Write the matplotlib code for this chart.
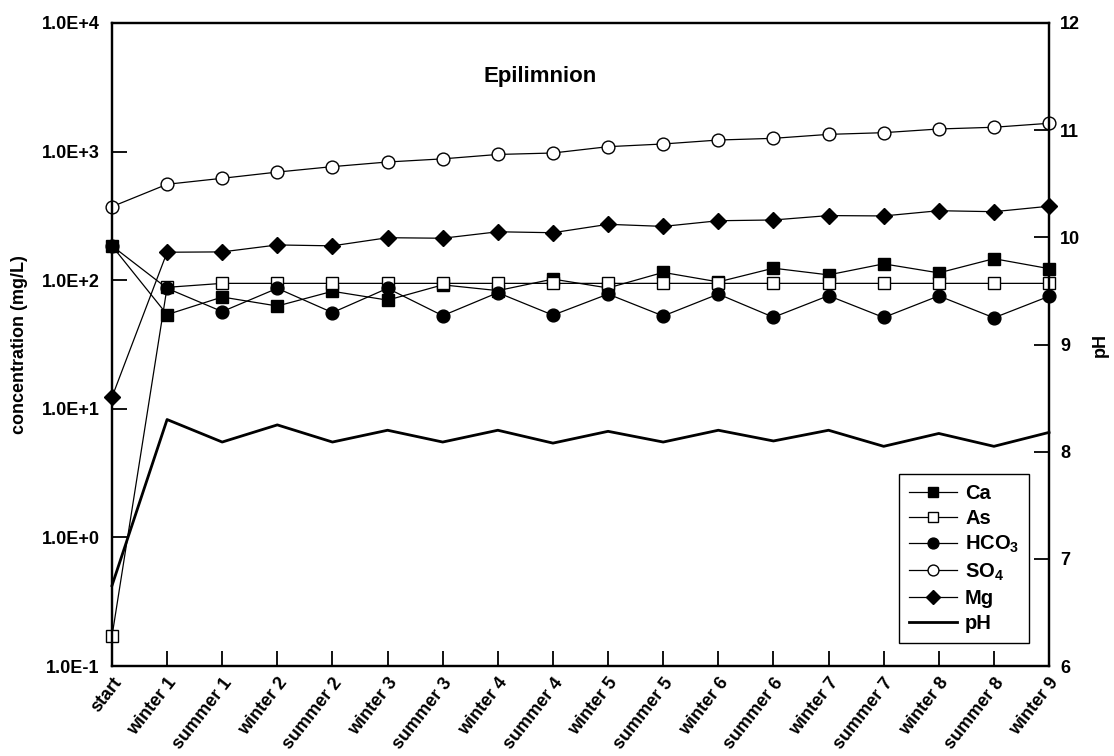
import numpy as np
import matplotlib.pyplot as plt

plt.rcParams['font.family'] = ['Liberation Sans', 'DejaVu Sans']
plt.rcParams['font.weight'] = 'bold'
plt.rcParams['mathtext.fontset'] = 'custom'
plt.rcParams['mathtext.rm'] = 'Liberation Sans:bold'
plt.rcParams['mathtext.default'] = 'rm'

# seasons
labels = ['start', 'winter 1', 'summer 1', 'winter 2', 'summer 2', 'winter 3',
          'summer 3', 'winter 4', 'summer 4', 'winter 5', 'summer 5', 'winter 6',
          'summer 6', 'winter 7', 'summer 7', 'winter 8', 'summer 8', 'winter 9']

# concentrations, mg/L
ca = [185, 54, 74, 63, 82, 70, 92, 83, 102, 87, 115, 97, 124, 110, 134, 114, 147, 123]
as_ = [0.17, 88, 94.5, 94.5, 94.5, 94.5, 94.5, 94.5, 94.5, 94.5, 94.5, 94.5,
       94.5, 94.5, 94.5, 94.5, 94.5, 94.5]
hco3 = [185, 86.5, 57, 86.5, 56, 86.5, 53, 80, 53.5, 78, 52.7, 78, 51.5, 75.8,
        51.3, 75.5, 51, 75]
so4 = [373, 557, 620, 693, 764, 830, 878, 950, 975, 1092, 1146, 1230, 1268, 1361,
       1403, 1499, 1546, 1660]
mg = [12.3, 165, 166, 188, 185, 214, 212, 238, 234, 272, 262, 290, 294, 318, 316,
      347, 341, 376]
ph = [6.75, 8.3, 8.09, 8.25, 8.09, 8.2, 8.09, 8.2, 8.08, 8.19, 8.09, 8.2, 8.1, 8.2,
      8.05, 8.17, 8.05, 8.18]

y_ticks = [0.1, 1, 10, 100, 1000, 10000]
y_ticklabels = ['1.0E-1', '1.0E+0', '1.0E+1', '1.0E+2', '1.0E+3', '1.0E+4']
ph_ticks = [6, 7, 8, 9, 10, 11, 12]

fig = plt.figure(figsize=(11.14, 7.56), dpi=100)
ax = fig.add_axes([0.1005, 0.119, 0.8412, 0.8506])
ax2 = ax.twinx()

x = np.arange(len(labels))

# concentration series
series = [
    (ca, 's', 'black', 8, 'Ca'),
    (as_, 's', 'white', 8, 'As'),
    (hco3, 'o', 'black', 9.2, 'HCO$_3$'),
    (so4, 'o', 'white', 9.2, 'SO$_4$'),
    (mg, 'D', 'black', 8, 'Mg'),
]
handles = []
for vals, m, fc, ms, lab in series:
    h, = ax.plot(x, vals, color='black', lw=0.9, marker=m, markersize=ms,
                 markerfacecolor=fc, markeredgecolor='black', markeredgewidth=1.0,
                 clip_on=False, label=lab)
    handles.append(h)

ax.set_yscale('log')
ax.set_ylim(0.1, 10000)
ax.set_xlim(0, len(labels) - 1)
ax.set_yticks(y_ticks)
ax.set_yticklabels(y_ticklabels)
ax.yaxis.set_minor_locator(plt.NullLocator())
ax.set_xticks(x)
ax.set_xticklabels(labels, rotation=52, ha='right', va='top', rotation_mode='anchor')
ax.set_ylabel('concentration (mg/L)', fontsize=13, fontweight='bold', labelpad=10)

# pH on the right axis
h, = ax2.plot(x, ph, color='black', lw=2.0, clip_on=False, label='pH')
handles.append(h)
ax2.set_ylim(6, 12)
ax2.set_yticks(ph_ticks)
ax2.set_ylabel('pH', fontsize=13, fontweight='bold', labelpad=8)

for a in (ax, ax2):
    for s in a.spines.values():
        s.set_linewidth(1.6)
ax.tick_params(axis='both', direction='in', length=10.5, width=1.3, labelsize=13, pad=9)
ax.tick_params(axis='x', pad=6)
ax2.tick_params(axis='y', direction='in', length=10.5, width=1.3, labelsize=13, pad=8)

ax.text(0.457, 0.916, 'Epilimnion', transform=ax.transAxes, ha='center', va='center',
        fontsize=16, fontweight='bold')

leg = ax2.legend(handles=handles, loc='lower right', bbox_to_anchor=(0.979, 0.036),
                 borderaxespad=0, fancybox=False, edgecolor='black', framealpha=1,
                 fontsize=14.5, handlelength=2.4, labelspacing=0.3, handletextpad=0.4,
                 borderpad=0.5, markerscale=0.85)
leg.get_frame().set_linewidth(1.0)

fig.savefig('out.png', dpi=100)
